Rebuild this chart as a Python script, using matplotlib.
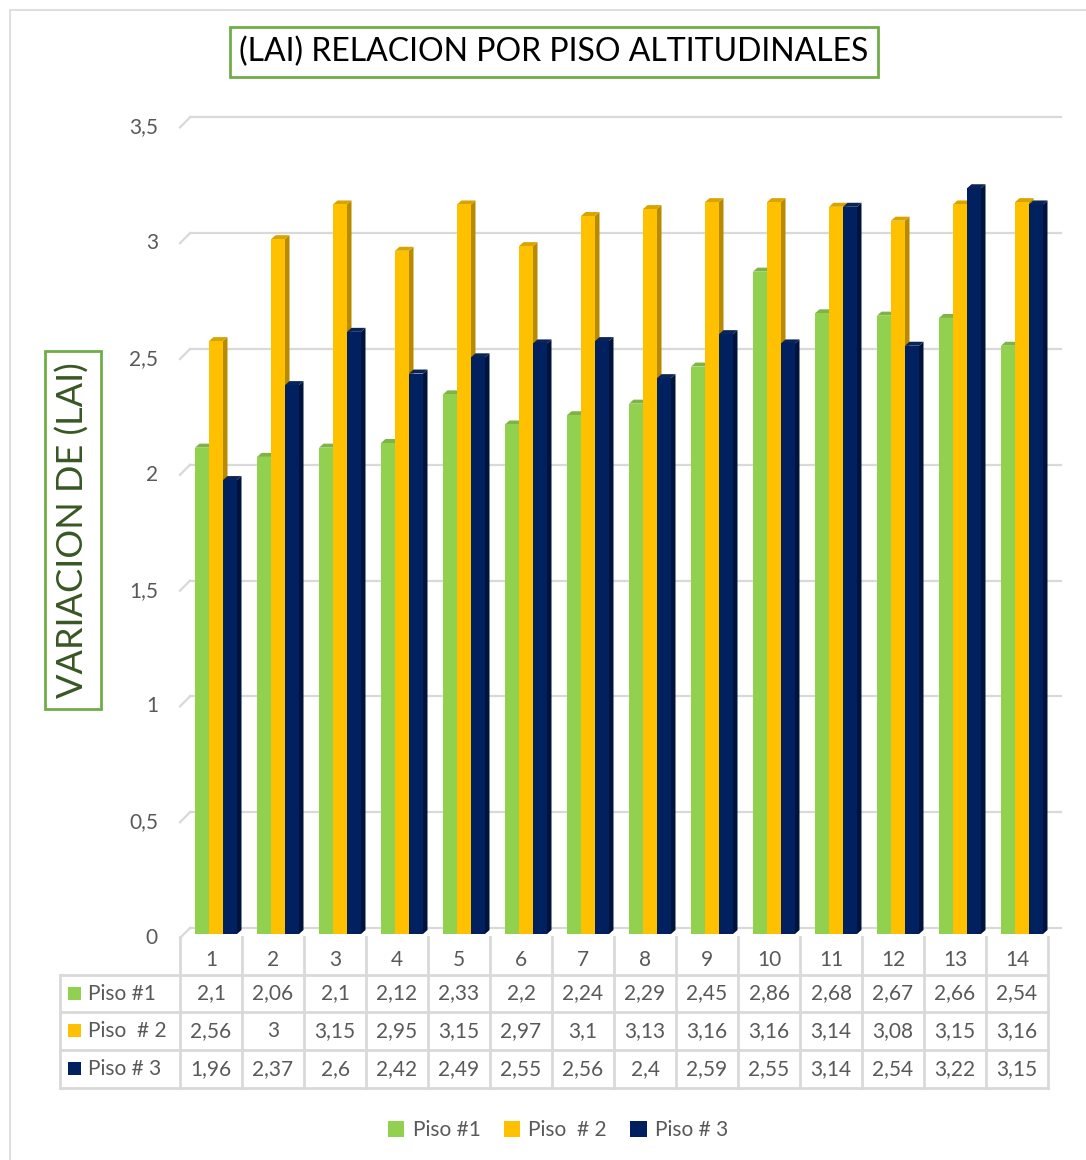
import matplotlib
matplotlib.use("Agg")
import matplotlib.pyplot as plt
from matplotlib.patches import Polygon, Rectangle, Patch
from matplotlib.lines import Line2D
import matplotlib.transforms as mtransforms

plt.rcParams['font.family'] = ['Lato', 'DejaVu Sans']

categories = [str(i) for i in range(1, 15)]
series_names = ["Piso #1", "Piso  # 2", "Piso # 3"]
piso1 = [2.1, 2.06, 2.1, 2.12, 2.33, 2.2, 2.24, 2.29, 2.45, 2.86, 2.68, 2.67, 2.66, 2.54]
piso2 = [2.56, 3, 3.15, 2.95, 3.15, 2.97, 3.1, 3.13, 3.16, 3.16, 3.14, 3.08, 3.15, 3.16]
piso3 = [1.96, 2.37, 2.6, 2.42, 2.49, 2.55, 2.56, 2.4, 2.59, 2.55, 3.14, 2.54, 3.22, 3.15]
yticks = [0, 0.5, 1, 1.5, 2, 2.5, 3, 3.5]

colors = ["#92D050", "#FFC000", "#002060"]
side_colors = ["#6F9E3C", "#B88A00", "#00133D"]
top_colors = ["#7DB544", "#D9A300", "#0B2457"]
grid_c = "#D9D9D9"
text_c = "#595959"

W, H = 1086, 1160
fig = plt.figure(figsize=(W / 100, H / 100), dpi=100)

def fx(px):
    return px / W

def fy(py):
    return 1 - py / H

# outer chart frame
fig.add_artist(Rectangle((fx(10), -0.02), 1.1, fy(10) + 0.02, transform=fig.transFigure,
                         fill=False, edgecolor=grid_c, lw=1.2))

ax = fig.add_axes([fx(180), fy(934), fx(1048) - fx(180), fy(123.4) - fy(934)])
ax.set_xlim(0.5, 14.5)
ax.set_ylim(0, 3.5)
ax.axis("off")

PX = 1 / 62.0      # data x per pixel
PY = 1 / 231.6     # data y per pixel

# back-wall gridlines with a small perspective step
for v in yticks:
    ax.add_line(Line2D([0.5, 0.5 + 10 * PX], [v - 4 * PY, v + 6 * PY], color=grid_c, lw=1.6,
                       clip_on=False, zorder=1))
    ax.add_line(Line2D([0.5 + 10 * PX, 14.5 + 13 * PX], [v + 6 * PY, v + 6 * PY], color=grid_c,
                       lw=1.6, clip_on=False, zorder=1))

# y tick labels
ytr = mtransforms.blended_transform_factory(fig.transFigure, ax.transData)
for v in yticks:
    lab = ("%g" % v).replace(".", ",")
    ax.text(fx(158), v - 4 * PY, lab, transform=ytr, ha="right", va="center",
            fontsize=15, color=text_c)

# 3D-looking columns
bw = 14 * PX
offsets = [-9 * PX, 5 * PX, 19 * PX]
dx, dy = 4.5 * PX, 4 * PY
xs = list(range(1, 15))
for s, vals in enumerate([piso1, piso2, piso3]):
    for x, v in zip(xs, vals):
        x0 = x + offsets[s] - bw / 2
        x1 = x0 + bw
        z = 3 + s
        ax.add_patch(Polygon([(x1, 0), (x1, v), (x1 + dx, v + dy), (x1 + dx, dy)],
                             closed=True, facecolor=side_colors[s], edgecolor="none",
                             zorder=z - 0.5, clip_on=False))
        ax.add_patch(Polygon([(x0, v), (x1, v), (x1 + dx, v + dy), (x0 + dx, v + dy)],
                             closed=True, facecolor=top_colors[s], edgecolor="none",
                             zorder=z - 0.5, clip_on=False))
    ax.bar([x + offsets[s] for x in xs], vals, width=bw, color=colors[s], zorder=3 + s,
           clip_on=False)

# title
fig.text(fx(554), fy(52), "(LAI) RELACION POR PISO ALTITUDINALES", ha="center", va="center",
         fontsize=23, color="black",
         bbox=dict(boxstyle="square,pad=0.3", facecolor="white", edgecolor="#70AD47", lw=2))

# y axis title
fig.text(fx(73), fy(530), "VARIACION DE (LAI)", rotation=90, ha="center", va="center",
         fontsize=26, color="#385723",
         bbox=dict(boxstyle="square,pad=0.3", facecolor="white", edgecolor="#70AD47", lw=2))

# data table
tx = mtransforms.blended_transform_factory(ax.transData, fig.transFigure)
row_lines = [975, 1012, 1050, 1088]
for py in row_lines:
    fig.add_artist(Line2D([fx(60), fx(1048)], [fy(py), fy(py)], color=grid_c, lw=2))
for k in range(15):
    xd = 0.5 + k
    fig.add_artist(Line2D([xd, xd], [fy(937), fy(1088)], color=grid_c, lw=2, transform=tx))
fig.add_artist(Line2D([fx(60), fx(60)], [fy(975), fy(1088)], color=grid_c, lw=2))

for x, c in zip(xs, categories):
    fig.text(x, fy(960), c, transform=tx, ha="center", va="center", fontsize=15, color=text_c)

row_centers = [993.5, 1031, 1069]
for s, (name, vals) in enumerate(zip(series_names, [piso1, piso2, piso3])):
    py = row_centers[s]
    fig.add_artist(Rectangle((fx(68), fy(py + 6)), 13 / W, 13 / H, transform=fig.transFigure,
                             facecolor=colors[s], edgecolor="none"))
    fig.text(fx(88), fy(py), name, ha="left", va="center", fontsize=15, color=text_c)
    for x, v in zip(xs, vals):
        fig.text(x, fy(py), ("%g" % v).replace(".", ","), transform=tx, ha="center",
                 va="center", fontsize=15, color=text_c)

# legend
handles = [Patch(facecolor=c, edgecolor="none") for c in colors]
fig.legend(handles, series_names, loc="center", bbox_to_anchor=(fx(558), fy(1130)), ncol=3,
           frameon=False, fontsize=15, labelcolor=text_c, handlelength=0.8, handleheight=0.8,
           handletextpad=0.4, columnspacing=1.1)

fig.savefig("out.png", dpi=100)
